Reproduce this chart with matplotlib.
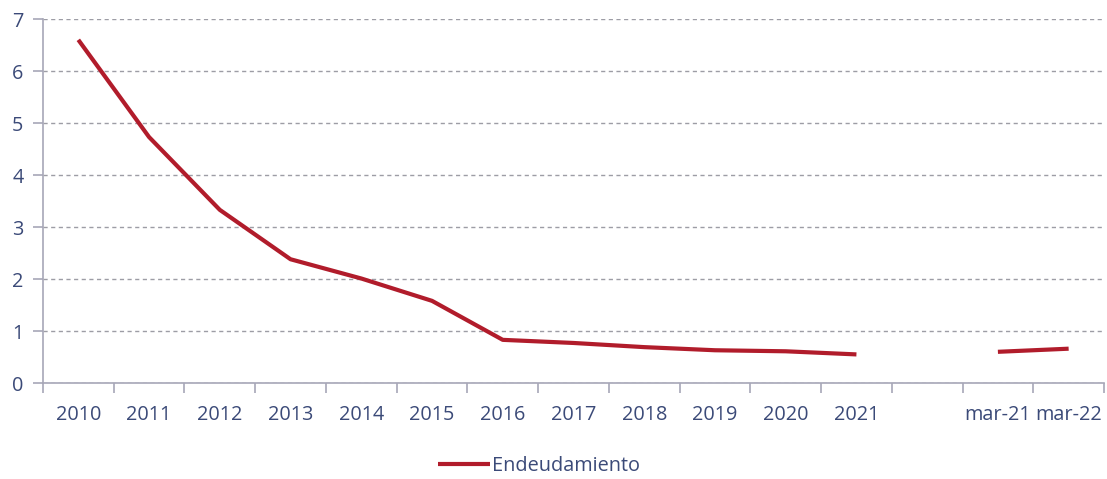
import numpy as np
import matplotlib
matplotlib.use('Agg')
import matplotlib.pyplot as plt

# categories (blank slot between 2021 and mar-21)
categories = ['2010', '2011', '2012', '2013', '2014', '2015', '2016', '2017',
              '2018', '2019', '2020', '2021', '', 'mar-21', 'mar-22']
endeudamiento = [6.60, 4.73, 3.33, 2.38, 2.01, 1.58, 0.83, 0.77,
                 0.69, 0.63, 0.61, 0.55, np.nan, 0.60, 0.66]

text_color = '#3b4a78'
axis_color = '#a7a7b7'
line_color = '#b11c2b'

plt.rcParams['font.family'] = ['Open Sans', 'DejaVu Sans']

fig = plt.figure(figsize=(11.07, 4.79), dpi=100)
ax = fig.add_axes([0.0388, 0.2004, 0.9585, 0.7599])

x = np.arange(len(categories))
ax.plot(x, endeudamiento, color=line_color, linewidth=3, label='Endeudamiento',
        solid_capstyle='butt')

ax.set_xlim(-0.5, len(categories) - 0.5)
ax.set_ylim(0, 7)
ax.set_yticks(range(0, 8))
ax.yaxis.grid(True, linestyle=(0, (3, 2.5)), color='#9d9da5', linewidth=1)
ax.set_axisbelow(True)

ax.set_xticks(x)
ax.set_xticklabels(categories)
ax.set_xticks(np.arange(-0.5, len(categories)), minor=True)
ax.tick_params(axis='x', which='major', length=0, pad=16, labelsize=14.3, labelcolor=text_color)
ax.tick_params(axis='x', which='minor', length=7, width=1.2, color=axis_color)
ax.tick_params(axis='y', length=7, width=1.2, color=axis_color, labelsize=14.3,
               labelcolor=text_color, pad=7)

for s in ['top', 'right']:
    ax.spines[s].set_visible(False)
for s in ['left', 'bottom']:
    ax.spines[s].set_color(axis_color)
    ax.spines[s].set_linewidth(1.2)

leg = fig.legend(loc='center', bbox_to_anchor=(0.487, 0.028), frameon=False,
                 fontsize=14.3, handlelength=2.65, handletextpad=0.1)
for t in leg.get_texts():
    t.set_color(text_color)

fig.savefig('out.png', dpi=100)
